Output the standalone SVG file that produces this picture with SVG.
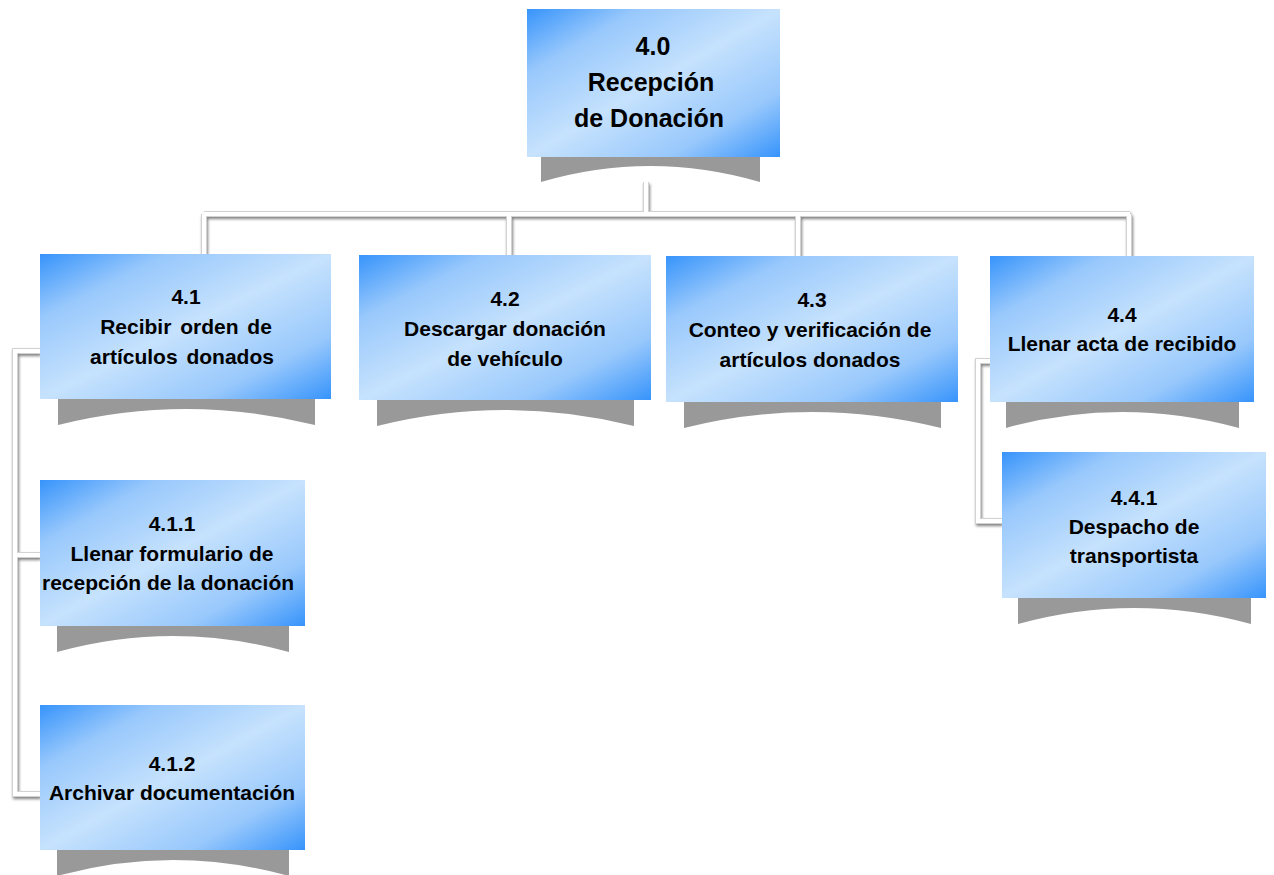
<svg xmlns="http://www.w3.org/2000/svg" width="1274" height="875" viewBox="0 0 1274 875">
<defs>
<linearGradient id="g" x1="0" y1="0" x2="1" y2="1">
<stop offset="0" stop-color="#3794fb"/>
<stop offset="0.22" stop-color="#98c8fc"/>
<stop offset="0.5" stop-color="#c6e2fd"/>
<stop offset="0.78" stop-color="#98c8fc"/>
<stop offset="1" stop-color="#3794fb"/>
</linearGradient>
<filter id="ls" x="-5%" y="-5%" width="110%" height="110%">
<feGaussianBlur in="SourceAlpha" stdDeviation="1.5"/>
<feOffset dx="1" dy="2" result="b"/>
<feComponentTransfer><feFuncA type="linear" slope="0.5"/></feComponentTransfer>
<feMerge><feMergeNode/><feMergeNode in="SourceGraphic"/></feMerge>
</filter>
</defs>
<style>
.box{fill:url(#g)}
.sh{fill:#999999}
.ln{fill:none;stroke:#d2d2d2;stroke-width:6}
.lw{fill:none;stroke:#ffffff;stroke-width:4}
text{font-family:"Liberation Sans",Arial,sans-serif;font-weight:bold;fill:#000;text-anchor:middle;font-size:21px}
.big{font-size:25px}
</style>
<rect width="1274" height="875" fill="#ffffff"/>
<g id="connectors" filter="url(#ls)">
<path class="ln" d="M646,182 V214 M204,214 H1130 M204,214 V254 M509,214 V255 M798,214 V256 M1129,214 V256 M40,351 H15 V794 H40 M15,555 H40 M990,361 H978 V521 H1002"/>
<path class="lw" d="M646,182 V214 M204,214 H1130 M204,214 V254 M509,214 V255 M798,214 V256 M1129,214 V256 M40,351 H15 V794 H40 M15,555 H40 M990,361 H978 V521 H1002"/>
</g>
<g id="n40">
<path class="sh" d="M541,157 H760 V182 Q650,150 541,182 Z"/>
<rect class="box" x="527" y="9" width="253" height="148"/>
<text class="big" x="653" y="55">4.0</text>
<text class="big" x="651" y="91">Recepción</text>
<text class="big" x="649" y="127">de Donación</text>
</g>
<g id="n41">
<path class="sh" d="M58,399 H315 V425 Q186,393 58,425 Z"/>
<rect class="box" x="40" y="254" width="291" height="145"/>
<text x="186" y="304">4.1</text>
<text x="186" y="334" word-spacing="3">Recibir orden de</text>
<text x="182" y="364" word-spacing="3">artículos donados</text>
</g>
<g id="n42">
<path class="sh" d="M377,400 H634 V426 Q505,394 377,426 Z"/>
<rect class="box" x="359" y="255" width="292" height="145"/>
<text x="505" y="306">4.2</text>
<text x="505" y="336">Descargar donación</text>
<text x="505" y="366">de vehículo</text>
</g>
<g id="n43">
<path class="sh" d="M684,402 H941 V428 Q812,396 684,428 Z"/>
<rect class="box" x="666" y="256" width="292" height="146"/>
<text x="812" y="307">4.3</text>
<text x="810" y="337">Conteo y verificación de</text>
<text x="810" y="367">artículos donados</text>
</g>
<g id="n44">
<path class="sh" d="M1006,402 H1239 V428 Q1122,396 1006,428 Z"/>
<rect class="box" x="990" y="256" width="264" height="146"/>
<text x="1122" y="322">4.4</text>
<text x="1122" y="351">Llenar acta de recibido</text>
</g>
<g id="n441">
<path class="sh" d="M1018,598 H1251 V624 Q1134,592 1018,624 Z"/>
<rect class="box" x="1002" y="452" width="264" height="146"/>
<text x="1134" y="505">4.4.1</text>
<text x="1134" y="534">Despacho de</text>
<text x="1134" y="563">transportista</text>
</g>
<g id="n411">
<path class="sh" d="M57,626 H289 V652 Q173,620 57,652 Z"/>
<rect class="box" x="40" y="480" width="265" height="146"/>
<text x="172" y="531">4.1.1</text>
<text x="172" y="561">Llenar formulario de</text>
<text x="168" y="590">recepción de la donación</text>
</g>
<g id="n412">
<path class="sh" d="M57,850 H289 V876 Q173,844 57,876 Z"/>
<rect class="box" x="40" y="705" width="265" height="145"/>
<text x="172" y="771">4.1.2</text>
<text x="172" y="800">Archivar documentación</text>
</g>
</svg>
